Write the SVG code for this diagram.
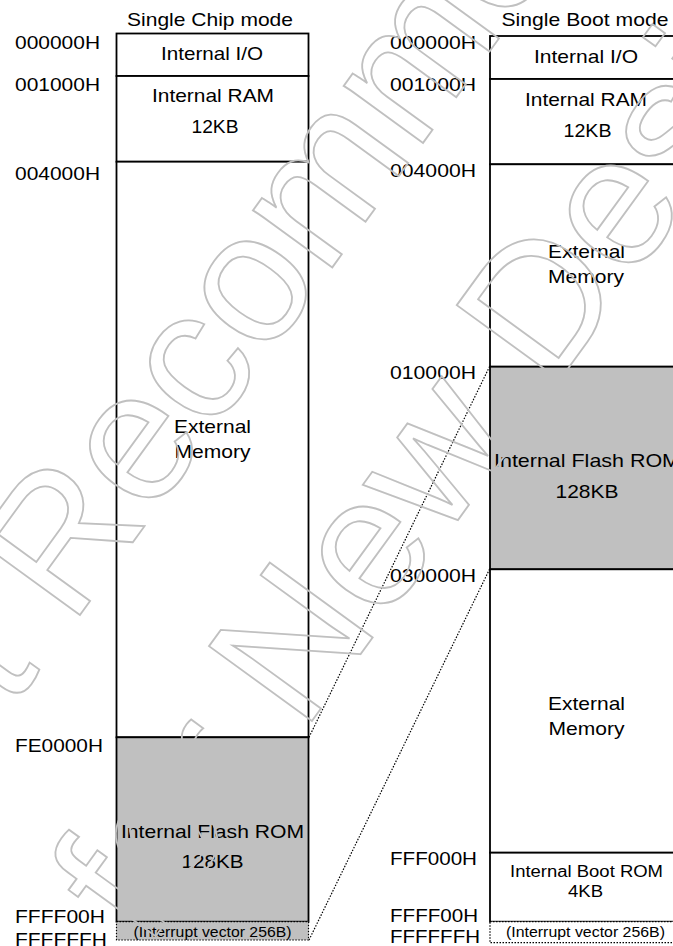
<svg xmlns="http://www.w3.org/2000/svg" width="673" height="946" viewBox="0 0 673 946">
<style>
.t{font-family:"Liberation Sans",Arial,sans-serif;font-size:19px;fill:#000}
.c{text-anchor:middle}
.s{font-size:14px}
.m{font-size:16px}
.box{fill:#fff;stroke:#000;stroke-width:1.8}
.gray{fill:#c0c0c0;stroke:#000;stroke-width:1.8}
.vec{stroke:#000;stroke-width:1.2;stroke-dasharray:1.5 1.5}
.dot{fill:none;stroke:#000;stroke-width:1.2;stroke-dasharray:1.5 1.5}
.wm{font-family:"Liberation Sans",Arial,sans-serif;font-size:185px;fill:none;stroke:#c0c0c0;stroke-width:1.8;text-anchor:middle}
</style>
<rect width="673" height="946" fill="#fff"/>
<g id="titles">
<text class="t c" x="210" y="25.7" textLength="166" lengthAdjust="spacingAndGlyphs">Single Chip mode</text>
<text class="t c" x="585" y="25.7" textLength="167" lengthAdjust="spacingAndGlyphs">Single Boot mode</text>
</g>
<g id="left-addresses">
<text class="t" x="15" y="49.3" textLength="85" lengthAdjust="spacingAndGlyphs">000000H</text>
<text class="t" x="15" y="90.7" textLength="85" lengthAdjust="spacingAndGlyphs">001000H</text>
<text class="t" x="15" y="179.8" textLength="85" lengthAdjust="spacingAndGlyphs">004000H</text>
<text class="t" x="15" y="752" textLength="88" lengthAdjust="spacingAndGlyphs">FE0000H</text>
<text class="t" x="15" y="923" textLength="90" lengthAdjust="spacingAndGlyphs">FFFF00H</text>
<text class="t" x="15" y="946" textLength="92" lengthAdjust="spacingAndGlyphs">FFFFFFH</text>
</g>
<g id="right-addresses">
<text class="t" x="390" y="49.3" textLength="86" lengthAdjust="spacingAndGlyphs">000000H</text>
<text class="t" x="390" y="90.7" textLength="86" lengthAdjust="spacingAndGlyphs">001000H</text>
<text class="t" x="390" y="176.5" textLength="86" lengthAdjust="spacingAndGlyphs">004000H</text>
<text class="t" x="390" y="378.5" textLength="86" lengthAdjust="spacingAndGlyphs">010000H</text>
<text class="t" x="390" y="581.7" textLength="86" lengthAdjust="spacingAndGlyphs">030000H</text>
<text class="t" x="390" y="865" textLength="87" lengthAdjust="spacingAndGlyphs">FFF000H</text>
<text class="t" x="390" y="921.7" textLength="88" lengthAdjust="spacingAndGlyphs">FFFF00H</text>
<text class="t" x="390" y="942.7" textLength="90" lengthAdjust="spacingAndGlyphs">FFFFFFH</text>
</g>
<g id="left-io"><rect class="box" x="116.5" y="33.5" width="192" height="42.5"/><text class="t c" x="212" y="60" textLength="102" lengthAdjust="spacingAndGlyphs">Internal I/O</text></g>
<g id="left-ram"><rect class="box" x="116.5" y="76" width="192" height="85.7"/><text class="t c" x="213" y="102.3" textLength="122" lengthAdjust="spacingAndGlyphs">Internal RAM</text><text class="t c" x="215" y="133.3" textLength="47" lengthAdjust="spacingAndGlyphs">12KB</text></g>
<g id="left-ext"><rect class="box" x="116.5" y="161.7" width="192" height="575.6"/><text class="t c" x="212.5" y="433.3" textLength="77" lengthAdjust="spacingAndGlyphs">External</text><text class="t c" x="212.5" y="458" textLength="76" lengthAdjust="spacingAndGlyphs">Memory</text></g>
<g id="left-flash"><rect class="gray" x="116.5" y="737.3" width="192" height="184.4"/><text class="t c" x="212.5" y="838.3" textLength="183" lengthAdjust="spacingAndGlyphs">Internal Flash ROM</text><text class="t c" x="212.5" y="868.3" textLength="62" lengthAdjust="spacingAndGlyphs">128KB</text></g>
<g id="left-vector"><rect class="vec" fill="#c0c0c0" x="116.5" y="921.7" width="192" height="18.3"/><text class="t c s" x="212.5" y="937.3" textLength="158" lengthAdjust="spacingAndGlyphs">(Interrupt vector 256B)</text></g>
<g id="right-io"><rect class="box" x="490" y="36" width="220" height="43"/><text class="t c" x="586" y="62.7" textLength="104" lengthAdjust="spacingAndGlyphs">Internal I/O</text></g>
<g id="right-ram"><rect class="box" x="490" y="79" width="220" height="85.3"/><text class="t c" x="586" y="106" textLength="122" lengthAdjust="spacingAndGlyphs">Internal RAM</text><text class="t c" x="587.5" y="136.7" textLength="48" lengthAdjust="spacingAndGlyphs">12KB</text></g>
<g id="right-ext1"><rect class="box" x="490" y="164.3" width="220" height="202.4"/><text class="t c" x="586.5" y="258.3" textLength="77" lengthAdjust="spacingAndGlyphs">External</text><text class="t c" x="586" y="283.3" textLength="76" lengthAdjust="spacingAndGlyphs">Memory</text></g>
<g id="right-flash"><rect class="gray" x="490" y="366.7" width="220" height="202.6"/><text class="t c" x="587" y="466.7" textLength="186" lengthAdjust="spacingAndGlyphs">Internal Flash ROM</text><text class="t c" x="587" y="498.3" textLength="63" lengthAdjust="spacingAndGlyphs">128KB</text></g>
<g id="right-ext2"><rect class="box" x="490" y="569.3" width="220" height="283.4"/><text class="t c" x="586.5" y="710" textLength="77" lengthAdjust="spacingAndGlyphs">External</text><text class="t c" x="586.5" y="735" textLength="76" lengthAdjust="spacingAndGlyphs">Memory</text></g>
<g id="right-boot"><rect class="box" x="490" y="852.7" width="220" height="69"/><text class="t c m" x="586.5" y="876.7" textLength="153" lengthAdjust="spacingAndGlyphs">Internal Boot ROM</text><text class="t c m" x="585.5" y="896.7" textLength="35" lengthAdjust="spacingAndGlyphs">4KB</text></g>
<g id="right-vector"><rect class="vec" fill="#fff" x="490" y="921.7" width="220" height="21"/><text class="t c s" x="585.5" y="937.3" textLength="159" lengthAdjust="spacingAndGlyphs">(Interrupt vector 256B)</text></g>
<g id="connectors">
<line class="dot" x1="309" y1="737.3" x2="489.5" y2="366.7"/>
<line class="dot" x1="309" y1="940" x2="489.5" y2="569.3"/>
</g>
<g id="watermark" transform="translate(340 257) rotate(-54)">
<text class="wm" x="0" y="0">Not Recommended</text>
<text class="wm" x="-42" y="250">for New Design</text>
</g>
</svg>
